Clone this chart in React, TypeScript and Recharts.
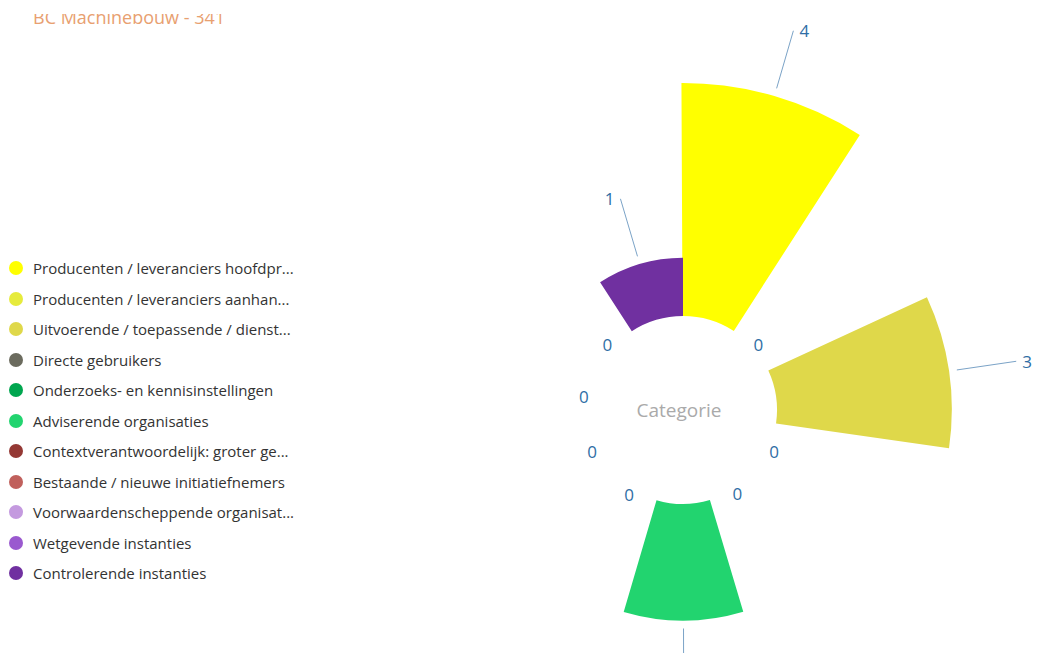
import { RadialBarChart, RadialBar, PolarAngleAxis, PolarRadiusAxis, Cell, LabelList } from 'recharts';

const categories = [
  'Producenten / leveranciers hoofdpr...',
  'Producenten / leveranciers aanhan...',
  'Uitvoerende / toepassende / dienst...',
  'Directe gebruikers',
  'Onderzoeks- en kennisinstellingen',
  'Adviserende organisaties',
  'Contextverantwoordelijk: groter ge...',
  'Bestaande / nieuwe initiatiefnemers',
  'Voorwaardenscheppende organisat...',
  'Wetgevende instanties',
  'Controlerende instanties',
];

const values = [4, 0, 3, 0, 0, 2, 0, 0, 0, 0, 1];

const colors = [
  '#FFFF00',
  '#E6EB3C',
  '#DFD84A',
  '#6B6B5E',
  '#00A64F',
  '#22D46F',
  '#943834',
  '#C0605C',
  '#C49ADF',
  '#9A59CF',
  '#7030A0',
];

const title = 'BC Machinebouw - 341';
const centerLabel = 'Categorie';

const data = categories.map((name, i) => ({ name, value: values[i] }));

// sectors sweep counter-clockwise from their start angle, so shift the start by one band
const band = 360 / categories.length;
const startAngle = 90 - band;

const labelColor = '#2F6EA5';
const font = '"Open Sans", sans-serif';

const renderLabel = (props: any) => {
  const { viewBox, value } = props;
  if (!viewBox) return null;
  const { cx, cy, innerRadius, outerRadius, startAngle: sa, endAngle: ea } = viewBox;
  const mid = (sa + ea) / 2;
  const rad = (-mid * Math.PI) / 180;
  const cos = Math.cos(rad);
  const sin = Math.sin(rad);
  if (!value) {
    const r = innerRadius + 6;
    return (
      <text
        x={cx + r * cos}
        y={cy + r * sin}
        textAnchor="middle"
        dominantBaseline="central"
        fill={labelColor}
        fontSize={17}
        fontFamily={font}
      >
        0
      </text>
    );
  }
  const r1 = outerRadius + 8;
  const r2 = outerRadius + 68;
  const x2 = cx + r2 * cos;
  const y2 = cy + r2 * sin;
  const right = cos >= 0;
  return (
    <g>
      <line x1={cx + r1 * cos} y1={cy + r1 * sin} x2={x2} y2={y2} stroke="#7BA3C7" strokeWidth={1} />
      <text
        x={x2 + (right ? 6 : -6)}
        y={y2}
        textAnchor={right ? 'start' : 'end'}
        dominantBaseline="central"
        fill={labelColor}
        fontSize={17}
        fontFamily={font}
      >
        {value}
      </text>
    </g>
  );
};

export default function App() {
  return (
    <div style={{ position: 'absolute', left: 0, top: 0, width: 1046, height: 653, background: '#fff', overflow: 'hidden' }}>
      <div style={{ position: 'absolute', left: 33, top: 14, height: 12, width: 300, overflow: 'hidden' }}>
        <span
          style={{
            position: 'absolute',
            top: -6,
            left: 0,
            whiteSpace: 'nowrap',
            fontFamily: font,
            fontSize: 18,
            lineHeight: '18px',
            color: '#E8A070',
          }}
        >
          {title}
        </span>
      </div>

      <RadialBarChart
        width={1046}
        height={653}
        data={data}
        layout="centric"
        cx={683}
        cy={410}
        innerRadius={94}
        outerRadius={327}
        startAngle={startAngle}
        endAngle={startAngle - 360}
        barCategoryGap={0}
        barGap={0}
        margin={{ top: 0, right: 0, bottom: 0, left: 0 }}
      >
        <PolarAngleAxis type="category" dataKey="name" tick={false} axisLine={false} />
        <PolarRadiusAxis type="number" domain={[0, 4]} tick={false} axisLine={false} />
        <RadialBar dataKey="value" isAnimationActive={false}>
          {data.map((entry, i) => (
            <Cell key={`cell-${entry.name}`} fill={colors[i]} />
          ))}
          <LabelList dataKey="value" content={renderLabel} />
        </RadialBar>
      </RadialBarChart>

      <div
        style={{
          position: 'absolute',
          left: 579,
          top: 398,
          width: 200,
          textAlign: 'center',
          fontFamily: font,
          fontSize: 19,
          lineHeight: '24px',
          color: '#AAAAAA',
        }}
      >
        {centerLabel}
      </div>

      <ul
        style={{
          position: 'absolute',
          left: 9,
          top: 253,
          listStyle: 'none',
          margin: 0,
          padding: 0,
          fontFamily: font,
          fontSize: 15,
          color: '#333',
        }}
      >
        {categories.map((name, i) => (
          <li key={name} style={{ display: 'flex', alignItems: 'center', height: 30.5, whiteSpace: 'nowrap' }}>
            <span
              style={{
                width: 14,
                height: 14,
                borderRadius: '50%',
                background: colors[i],
                marginRight: 10,
                flexShrink: 0,
              }}
            />
            {name}
          </li>
        ))}
      </ul>
    </div>
  );
}
